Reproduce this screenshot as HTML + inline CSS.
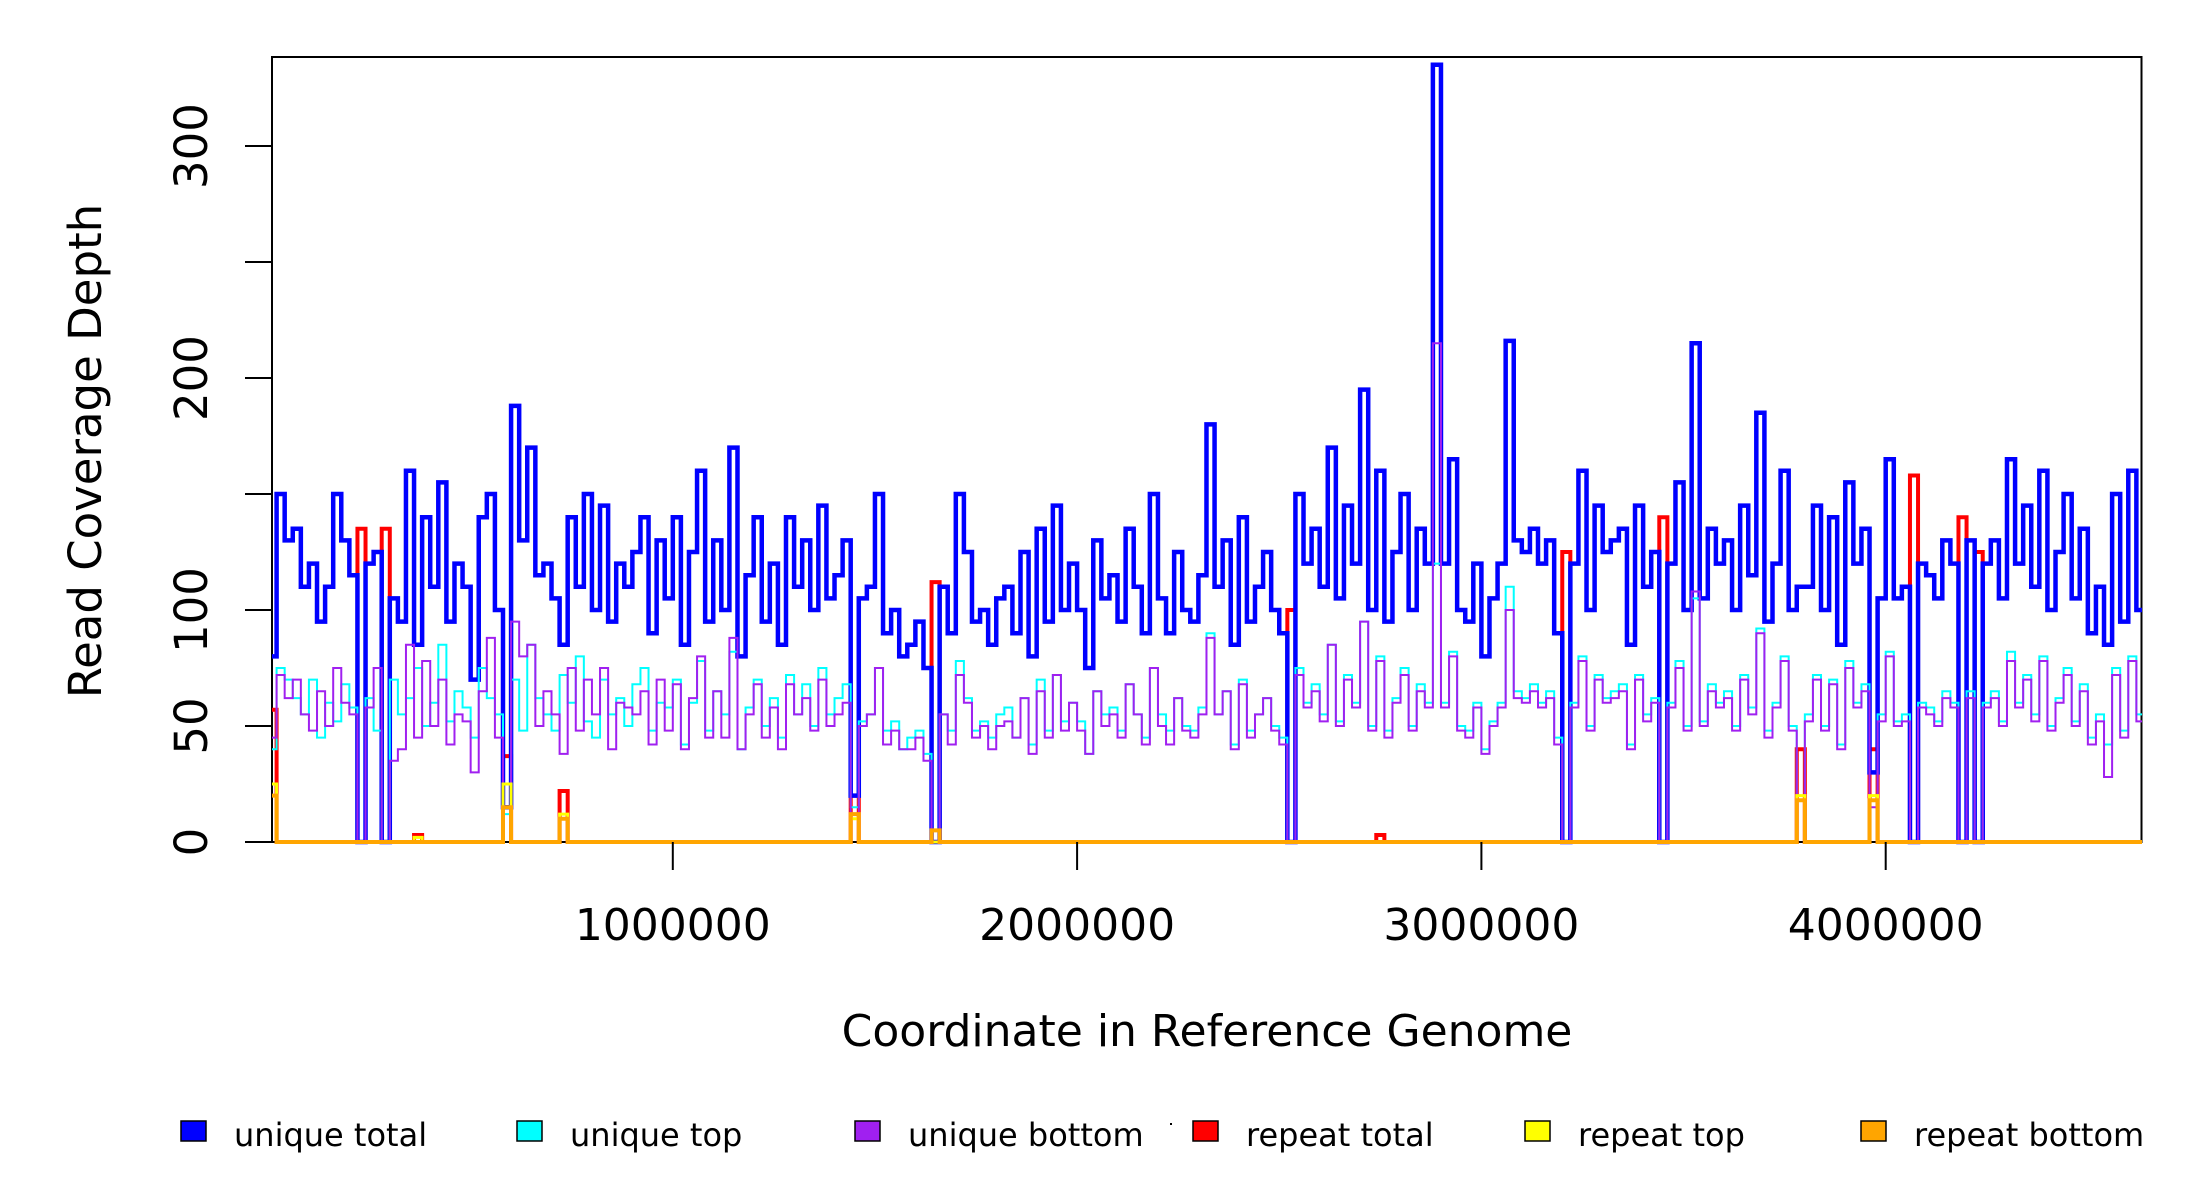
<!DOCTYPE html>
<html><head><meta charset="utf-8">
<style>
html,body{margin:0;padding:0;background:#fff;}
svg{display:block;font-family:"DejaVu Sans","Liberation Sans",sans-serif;}
</style></head>
<body>
<svg id="chart" width="2200" height="1200" viewBox="0 0 2200 1200" xmlns="http://www.w3.org/2000/svg">
<defs><clipPath id="plotclip"><rect x="272" y="57" width="1870" height="790"/></clipPath></defs>
<rect x="0" y="0" width="2200" height="1200" fill="#fff"/>
<rect x="272" y="57" width="1869.5" height="785" fill="none" stroke="#000" stroke-width="2"/>
<g id="series" clip-path="url(#plotclip)"></g>
<g id="yaxis"></g>
<g id="xaxis"></g>
<text x="0" y="0" transform="translate(101,451) rotate(-90)" text-anchor="middle" font-size="45">Read Coverage Depth</text>
<text x="1207" y="1046" text-anchor="middle" font-size="44">Coordinate in Reference Genome</text>
<g id="legend"></g>
<rect x="1170" y="1123" width="2" height="2" fill="#000"/>
</svg>
<script>
const binSize = 20000;
const uniqueTotal = [
80,150,130,135,110,120,95,110,150,130,
115,0,120,125,0,105,95,160,85,140,
110,155,95,120,110,70,140,150,100,15,
188,130,170,115,120,105,85,140,110,150,
100,145,95,120,110,125,140,90,130,105,
140,85,125,160,95,130,100,170,80,115,
140,95,120,85,140,110,130,100,145,105,
115,130,20,105,110,150,90,100,80,85,
95,75,0,110,90,150,125,95,100,85,
105,110,90,125,80,135,95,145,100,120,
100,75,130,105,115,95,135,110,90,150,
105,90,125,100,95,115,180,110,130,85,
140,95,110,125,100,90,0,150,120,135,
110,170,105,145,120,195,100,160,95,125,
150,100,135,120,335,120,165,100,95,120,
80,105,120,216,130,125,135,120,130,90,
0,120,160,100,145,125,130,135,85,145,
110,125,0,120,155,100,215,105,135,120,
130,100,145,115,185,95,120,160,100,110,
110,145,100,140,85,155,120,135,30,105,
165,105,110,0,120,115,105,130,120,0,
130,0,120,130,105,165,120,145,110,160,
100,125,150,105,135,90,110,85,150,95,
160,100];
const uniqueTop = [
40,75,70,62,55,70,45,60,52,68,
58,0,62,48,0,70,55,62,75,50,
60,85,52,65,58,45,75,62,55,12,
70,48,85,62,55,48,72,60,80,52,
45,70,55,62,50,68,75,48,60,58,
70,42,60,78,48,65,55,82,40,58,
70,50,62,45,72,55,68,50,75,55,
62,68,15,52,55,75,48,52,40,45,
48,38,0,55,48,78,62,48,52,45,
55,58,45,62,42,70,48,72,52,60,
52,38,65,55,58,48,68,55,45,75,
55,48,62,50,48,58,90,55,65,42,
70,48,55,62,50,45,0,75,60,68,
55,85,52,72,60,95,50,80,48,62,
75,50,68,60,120,60,82,50,48,60,
40,52,60,110,65,62,68,60,65,45,
0,60,80,50,72,62,65,68,42,72,
55,62,0,60,78,50,105,52,68,60,
65,50,72,58,92,48,60,80,50,20,
55,72,50,70,42,78,60,68,18,55,
82,52,55,0,60,58,52,65,60,0,
65,0,60,65,52,82,60,72,55,80,
50,62,75,52,68,45,55,42,75,48,
80,55];
const uniqueBottom = [
45,72,62,70,55,48,65,50,75,60,
55,0,58,75,0,35,40,85,45,78,
50,70,42,55,52,30,65,88,45,15,
95,80,85,50,65,55,38,75,48,70,
55,75,40,60,58,55,65,42,70,48,
68,40,62,80,45,65,45,88,40,55,
68,45,58,40,68,55,62,48,70,50,
55,60,12,50,55,75,42,48,40,40,
45,35,0,55,42,72,60,45,50,40,
50,52,45,62,38,65,45,72,48,60,
48,38,65,50,55,45,68,55,42,75,
50,42,62,48,45,55,88,55,65,40,
68,45,55,62,48,42,0,72,58,65,
52,85,50,70,58,95,48,78,45,60,
72,48,65,58,215,58,80,48,45,58,
38,50,58,100,62,60,65,58,62,42,
0,58,78,48,70,60,62,65,40,70,
52,60,0,58,75,48,108,50,65,58,
62,48,70,55,90,45,58,78,48,20,
52,70,48,68,40,75,58,65,15,52,
80,50,52,0,58,55,50,62,58,0,
62,0,58,62,50,78,58,70,52,78,
48,60,72,50,65,42,52,28,72,45,
78,52];
// sparse repeat series: [binIndex, value]
const repeatTotal = [[0,57],[11,135],[14,135],[18,3],[29,37],[36,22],[72,20],[82,112],[126,100],[137,3],[160,125],[172,140],[189,40],[198,40],[203,158],[209,140],[211,125]];
const repeatTop = [[0,25],[18,2],[29,25],[36,12],[72,10],[189,20],[198,20]];
const repeatBottom = [[0,20],[29,15],[36,10],[72,12],[82,5],[189,18],[198,18]];
const yTicks = [0,50,100,150,200,250,300];
const yTickLabels = ["0","50","100","","200","","300"];
const xTicks = [1000000,2000000,3000000,4000000];
const xTickLabels = ["1000000","2000000","3000000","4000000"];
const legendLabels = ["unique total","unique top","unique bottom","repeat total","repeat top","repeat bottom"];
const legendColors = ["#0000ff","#00ffff","#a020f0","#ff0000","#ffff00","#ffa500"];

const NS = "http://www.w3.org/2000/svg";
function xScale(v){ return 268.5 + v * 404.3e-6; }
function yScale(v){ return 842 - v * 2.32; }
function mk(tag, attrs, parent){
  const e = document.createElementNS(NS, tag);
  for (const k in attrs) e.setAttribute(k, attrs[k]);
  parent.appendChild(e);
  return e;
}
const nBins = uniqueTotal.length;
function dense(sparse){
  const arr = new Array(nBins).fill(0);
  sparse.forEach(p => { arr[p[0]] = p[1]; });
  return arr;
}
function stepPath(vals){
  let d = "";
  for (let i = 0; i < vals.length; i++) {
    const x0 = xScale(i * binSize), x1 = xScale((i + 1) * binSize), y = yScale(vals[i]);
    d += (i === 0 ? "M" : "L") + x0.toFixed(2) + "," + y.toFixed(2) + "L" + x1.toFixed(2) + "," + y.toFixed(2);
  }
  return d;
}
const sg = document.getElementById("series");
const seriesDefs = [
  [dense(repeatTotal), "#ff0000", 4, "repeat-total-line"],
  [uniqueTotal, "#0000ff", 4.5, "unique-total-line"],
  [uniqueTop, "#00ffff", 2, "unique-top-line"],
  [uniqueBottom, "#a020f0", 2, "unique-bottom-line"],
  [dense(repeatTop), "#ffff00", 3, "repeat-top-line"],
  [dense(repeatBottom), "#ffa500", 4, "repeat-bottom-line"]
];
seriesDefs.forEach(s => {
  const p = mk("path", {d: stepPath(s[0]), fill: "none", stroke: s[1], "stroke-width": s[2], "stroke-linejoin": "miter"}, sg);
  
  
});
const yg = document.getElementById("yaxis");
yTicks.forEach((t, i) => {
  const y = yScale(t);
  const ln = mk("line", {x1: 245, x2: 272, y1: y, y2: y, stroke: "#000", "stroke-width": 2}, yg);
  
  
  if (yTickLabels[i]) {
    const tx = mk("text", {x: 0, y: 0, transform: "translate(207," + y + ") rotate(-90)", "text-anchor": "middle", "font-size": 45}, yg);
    tx.textContent = yTickLabels[i];
    
    
  }
});
const xg = document.getElementById("xaxis");
xTicks.forEach((t, i) => {
  const x = xScale(t);
  const ln = mk("line", {x1: x, x2: x, y1: 842, y2: 870, stroke: "#000", "stroke-width": 2}, xg);
  
  
  const tx = mk("text", {x: x, y: 940, "text-anchor": "middle", "font-size": 44}, xg);
  tx.textContent = xTickLabels[i];
  
  
});
const lg = document.getElementById("legend");
const legendBoxX = [181, 517, 855, 1193, 1525, 1861];
legendLabels.forEach((lab, i) => {
  const r = mk("rect", {x: legendBoxX[i], y: 1121, width: 25, height: 20, fill: legendColors[i], stroke: "#000", "stroke-width": 1.5}, lg);
  
  
  const tx = mk("text", {x: legendBoxX[i] + 53, y: 1146, "font-size": 32}, lg);
  tx.textContent = lab;
  
  
});
</script>
</body></html>
